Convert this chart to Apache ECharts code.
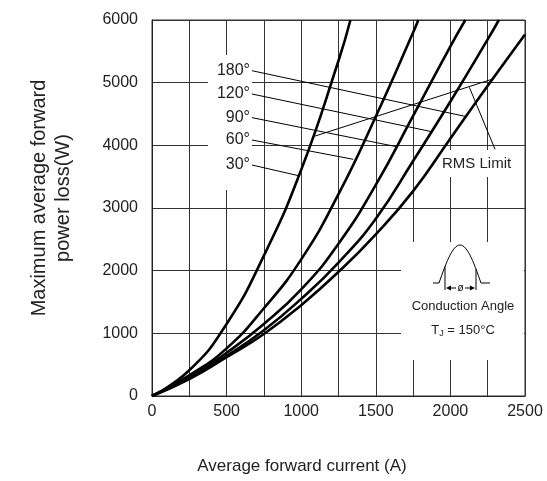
<!DOCTYPE html>
<html lang="en">
<head>
    <meta charset="UTF-8">
    <title>Forward power loss</title>
    <script src="https://cdn.jsdelivr.net/npm/echarts@6/dist/echarts.min.js"></script>
    <style>
        html, body { margin: 0; padding: 0; background: #fff; }
        #chart { width: 547px; height: 481px; }
    </style>
</head>
<body>
<div id="chart"></div>
<script type="text/javascript">
    // curves: [current A, power W]
    var angles = ['30°', '60°', '90°', '120°', '180°'];
    var curve30 = [[0, 0], [250, 410], [500, 1150], [750, 2240], [1000, 3610], [1250, 5350], [1330, 6000]];
    var curve60 = [[0, 0], [250, 330], [500, 760], [750, 1400], [1000, 2180], [1250, 3220], [1500, 4460], [1750, 5800], [1785, 6000]];
    var curve90 = [[0, 0], [250, 300], [500, 690], [750, 1150], [1000, 1700], [1250, 2430], [1500, 3370], [1750, 4470], [2000, 5580], [2100, 6000]];
    var curve120 = [[0, 0], [250, 285], [500, 640], [750, 1050], [1000, 1550], [1250, 2130], [1500, 2830], [1750, 3750], [2000, 4700], [2250, 5690], [2325, 6000]];
    var curve180 = [[0, 0], [250, 270], [500, 620], [750, 990], [1000, 1450], [1250, 1980], [1500, 2580], [1750, 3270], [2000, 4110], [2250, 4950], [2500, 5770]];

    // leader lines from the angle labels to their curves (same order as angles)
    var leaders = [
        [[670, 3686], [992, 3510]],
        [[670, 4085], [1349, 3777]],
        [[670, 4442], [1640, 3978]],
        [[670, 4819], [1875, 4218]],
        [[670, 5191], [2109, 4457]]
    ];
    var rmsLine = [[1093, 4148], [2277, 5053]];
    var rmsLeader = [[2299, 3937], [2127, 4926]];

    var xTicks = [0, 500, 1000, 1500, 2000, 2500];

    var font = 'Liberation Sans';
    var myChart = echarts.init(document.getElementById('chart'));

    var series = [];
    [curve30, curve60, curve90, curve120, curve180].forEach(function (d, i) {
        series.push({
            name: angles[i], type: 'line', data: d, smooth: 0.5,
            showSymbol: false, clip: true, z: 3,
            lineStyle: {color: '#000', width: 2.6}
        });
    });
    leaders.concat([rmsLine, rmsLeader]).forEach(function (d) {
        series.push({
            type: 'line', data: d, showSymbol: false, z: 3,
            lineStyle: {color: '#000', width: 1}
        });
    });

    // conduction angle icon
    var pulse = [];
    for (var k = 0; k <= 30; k++) {
        pulse.push([439 + k * 42 / 30, 283 - 38 * Math.sin(Math.PI * k / 30)]);
    }
    function yOnPulse(x) { return 283 - 38 * Math.sin(Math.PI * (x - 439) / 42); }

    var labelStyle = {fontFamily: font, fontSize: 16, fill: '#222'};
    var graphics = [
        {type: 'rect', shape: {x: 208, y: 55, width: 44, height: 135}, style: {fill: '#fff'}, z: 1},
        {type: 'rect', shape: {x: 440, y: 150, width: 84, height: 27}, style: {fill: '#fff'}, z: 1},
        {type: 'rect', shape: {x: 401, y: 242, width: 123, height: 118}, style: {fill: '#fff'}, z: 1},
        {type: 'text', x: 51, y: 198, rotation: Math.PI / 2, z: 5,
            style: {text: 'Maximum average forward\npower loss(W)', fontFamily: font, fontSize: 20, lineHeight: 24,
                fill: '#222', textAlign: 'center', textVerticalAlign: 'middle'}},
        {type: 'text', x: 302, y: 466, z: 5,
            style: {text: 'Average forward current (A)', fontFamily: font, fontSize: 17, fill: '#222',
                textAlign: 'center', textVerticalAlign: 'middle'}},
        {type: 'text', x: 442, y: 164, z: 5,
            style: Object.assign({text: 'RMS Limit', textAlign: 'left', textVerticalAlign: 'middle'}, labelStyle, {fontSize: 15})},
        {type: 'polyline', shape: {points: [[433, 283], [439, 283]]}, style: {stroke: '#000', lineWidth: 1}, z: 5},
        {type: 'polyline', shape: {points: [[481, 283], [490, 283]]}, style: {stroke: '#000', lineWidth: 1}, z: 5},
        {type: 'polyline', shape: {points: pulse}, style: {stroke: '#000', fill: null, lineWidth: 1}, z: 5},
        {type: 'line', shape: {x1: 445, y1: yOnPulse(445), x2: 445, y2: 290}, style: {stroke: '#000', lineWidth: 1}, z: 5},
        {type: 'line', shape: {x1: 476, y1: yOnPulse(476), x2: 476, y2: 290}, style: {stroke: '#000', lineWidth: 1}, z: 5},
        {type: 'polygon', shape: {points: [[446, 288], [451, 285.5], [451, 290.5]]}, style: {fill: '#000'}, z: 5},
        {type: 'line', shape: {x1: 450, y1: 288, x2: 456, y2: 288}, style: {stroke: '#000', lineWidth: 1}, z: 5},
        {type: 'polygon', shape: {points: [[475, 288], [470, 285.5], [470, 290.5]]}, style: {fill: '#000'}, z: 5},
        {type: 'line', shape: {x1: 465, y1: 288, x2: 471, y2: 288}, style: {stroke: '#000', lineWidth: 1}, z: 5},
        {type: 'text', x: 460.5, y: 288, z: 5,
            style: {text: 'ø', fontFamily: font, fontSize: 10, fill: '#000', textAlign: 'center', textVerticalAlign: 'middle'}},
        {type: 'text', x: 463, y: 306, z: 5,
            style: {text: 'Conduction Angle', fontFamily: font, fontSize: 13, fill: '#222', textAlign: 'center', textVerticalAlign: 'middle'}},
        {type: 'text', x: 463, y: 330, z: 5,
            style: {text: 'T{s|J} = 150°C', fontFamily: font, fontSize: 13, fill: '#222', textAlign: 'center', textVerticalAlign: 'middle',
                rich: {s: {fontFamily: font, fontSize: 9, fill: '#222', padding: [8, 0, 0, 0]}}}}
    ];
    var labelY = [165, 140, 117.7, 94, 70.7];
    angles.forEach(function (a, i) {
        graphics.push({type: 'text', x: 250, y: labelY[i], z: 5,
            style: Object.assign({text: a, textAlign: 'right', textVerticalAlign: 'middle'}, labelStyle)});
    });

    var option = {
        animation: false,
        backgroundColor: '#fff',
        grid: {left: 152, right: 22, top: 20, bottom: 85, show: true, borderColor: '#333', borderWidth: 1},
        xAxis: {
            type: 'value', min: 0, max: 2500, interval: 250,
            axisLine: {show: true, lineStyle: {color: '#222', width: 1}},
            axisTick: {show: false},
            splitLine: {show: true, lineStyle: {color: '#333', width: 1}},
            axisLabel: {
                fontFamily: font, fontSize: 16, color: '#222', margin: 8, showMaxLabel: true,
                formatter: function (v) { return xTicks.indexOf(v) >= 0 ? String(v) : ''; }
            }
        },
        yAxis: {
            type: 'value', min: 0, max: 6000, interval: 1000,
            axisLine: {show: true, lineStyle: {color: '#222', width: 1}},
            axisTick: {show: false},
            splitLine: {show: true, lineStyle: {color: '#333', width: 1}},
            axisLabel: {fontFamily: font, fontSize: 16, color: '#222', margin: 14,
                formatter: function (v) { return String(v); }}
        },
        graphic: graphics,
        series: series
    };
    myChart.setOption(option);
</script>
</body>
</html>
